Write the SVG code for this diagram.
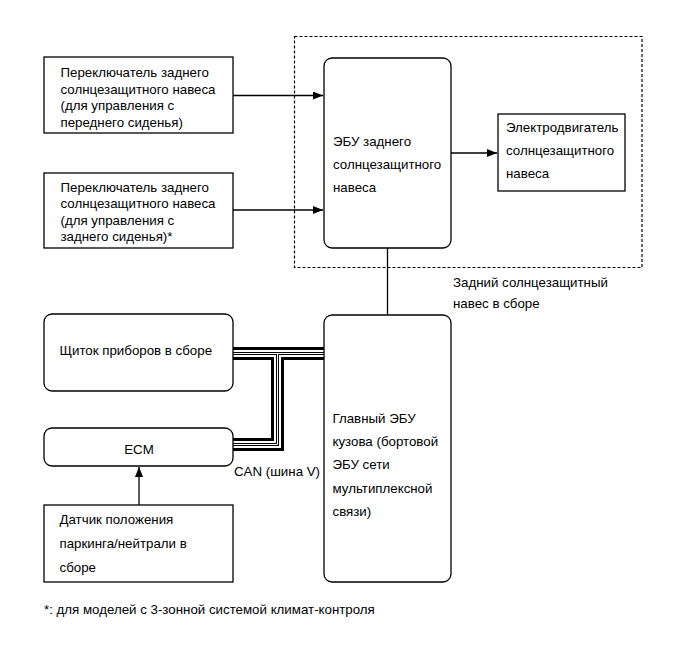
<svg xmlns="http://www.w3.org/2000/svg" width="690" height="659" viewBox="0 0 690 659">
<defs>
<style>
text{font-family:"Liberation Sans",Arial,sans-serif;font-size:13.3px;fill:#000}
.box{fill:#fff;stroke:#000;stroke-width:1.3}
.ln{fill:none;stroke:#000;stroke-width:1.3}
.dash{fill:none;stroke:#000;stroke-width:1.2;stroke-dasharray:3 2}
</style>
<marker id="ah" viewBox="0 0 10 8" refX="10" refY="4" markerWidth="10" markerHeight="8" markerUnits="userSpaceOnUse" orient="auto">
<path d="M0,0 L10,4 L0,8 Z" fill="#000"/>
</marker>
</defs>
<rect width="690" height="659" fill="#fff"/>

<g id="assembly-frame">
<rect class="dash" x="294.5" y="36.5" width="347.5" height="231"/>
<text x="453" y="286.5">Задний солнцезащитный</text>
<text x="453" y="308">навес в сборе</text>
</g>

<g id="connectors">
<line class="ln" x1="233" y1="95.5" x2="323" y2="95.5" marker-end="url(#ah)"/>
<line class="ln" x1="233" y1="210" x2="323" y2="210" marker-end="url(#ah)"/>
<line class="ln" x1="451" y1="153" x2="497" y2="153" marker-end="url(#ah)"/>
<line class="ln" x1="139" y1="505" x2="139" y2="467" marker-end="url(#ah)"/>
<line class="ln" x1="387.5" y1="248" x2="387.5" y2="315"/>
<g id="can-bus" fill="none">
<path d="M233,353.5 H324 M233,444.5 H277.5 V353.5" stroke="#000" stroke-width="13"/>
<path d="M233,353.5 H324 M233,444.5 H277.5 V353.5" stroke="#fff" stroke-width="7"/>
<path d="M233,353.5 H324 M233,444.5 H277.5 V353.5" stroke="#000" stroke-width="3"/>
<path d="M233,353.5 H324 M233,444.5 H277.5 V353.5" stroke="#fff" stroke-width="1"/>
</g>
<text x="234" y="476">CAN (шина V)</text>
</g>

<g id="switch-front">
<rect class="box" x="44" y="57" width="189" height="76"/>
<text x="60.5" y="77">Переключатель заднего</text>
<text x="60.5" y="93.5">солнцезащитного навеса</text>
<text x="60.5" y="110">(для управления с</text>
<text x="60.5" y="126.5">переднего сиденья)</text>
</g>

<g id="switch-rear">
<rect class="box" x="44" y="173" width="189" height="75"/>
<text x="60.5" y="191.5">Переключатель заднего</text>
<text x="60.5" y="208">солнцезащитного навеса</text>
<text x="60.5" y="224.5">(для управления с</text>
<text x="60.5" y="241">заднего сиденья)*</text>
</g>

<g id="shade-ecu">
<rect class="box" x="324" y="58" width="127" height="190" rx="8"/>
<text x="333" y="145.5">ЭБУ заднего</text>
<text x="333" y="168.5">солнцезащитного</text>
<text x="333" y="191.5">навеса</text>
</g>

<g id="shade-motor">
<rect class="box" x="498" y="114" width="127" height="77"/>
<text x="506" y="132">Электродвигатель</text>
<text x="506" y="155">солнцезащитного</text>
<text x="506" y="178">навеса</text>
</g>

<g id="combination-meter">
<rect class="box" x="44" y="314" width="189" height="77" rx="8"/>
<text x="59.5" y="355">Щиток приборов в сборе</text>
</g>

<g id="ecm">
<rect class="box" x="44" y="428" width="189" height="38" rx="8"/>
<text x="139" y="454" text-anchor="middle">ECM</text>
</g>

<g id="pn-sensor">
<rect class="box" x="44" y="505" width="189" height="77"/>
<text x="59.5" y="524">Датчик положения</text>
<text x="59.5" y="548">паркинга/нейтрали в</text>
<text x="59.5" y="571.5">сборе</text>
</g>

<g id="main-body-ecu">
<rect class="box" x="324" y="315" width="127" height="267" rx="8"/>
<text x="332.5" y="422.5">Главный ЭБУ</text>
<text x="332.5" y="446">кузова (бортовой</text>
<text x="332.5" y="469">ЭБУ сети</text>
<text x="332.5" y="492.5">мультиплексной</text>
<text x="332.5" y="515.5">связи)</text>
</g>

<text x="44" y="614">*: для моделей с 3-зонной системой климат-контроля</text>
</svg>
